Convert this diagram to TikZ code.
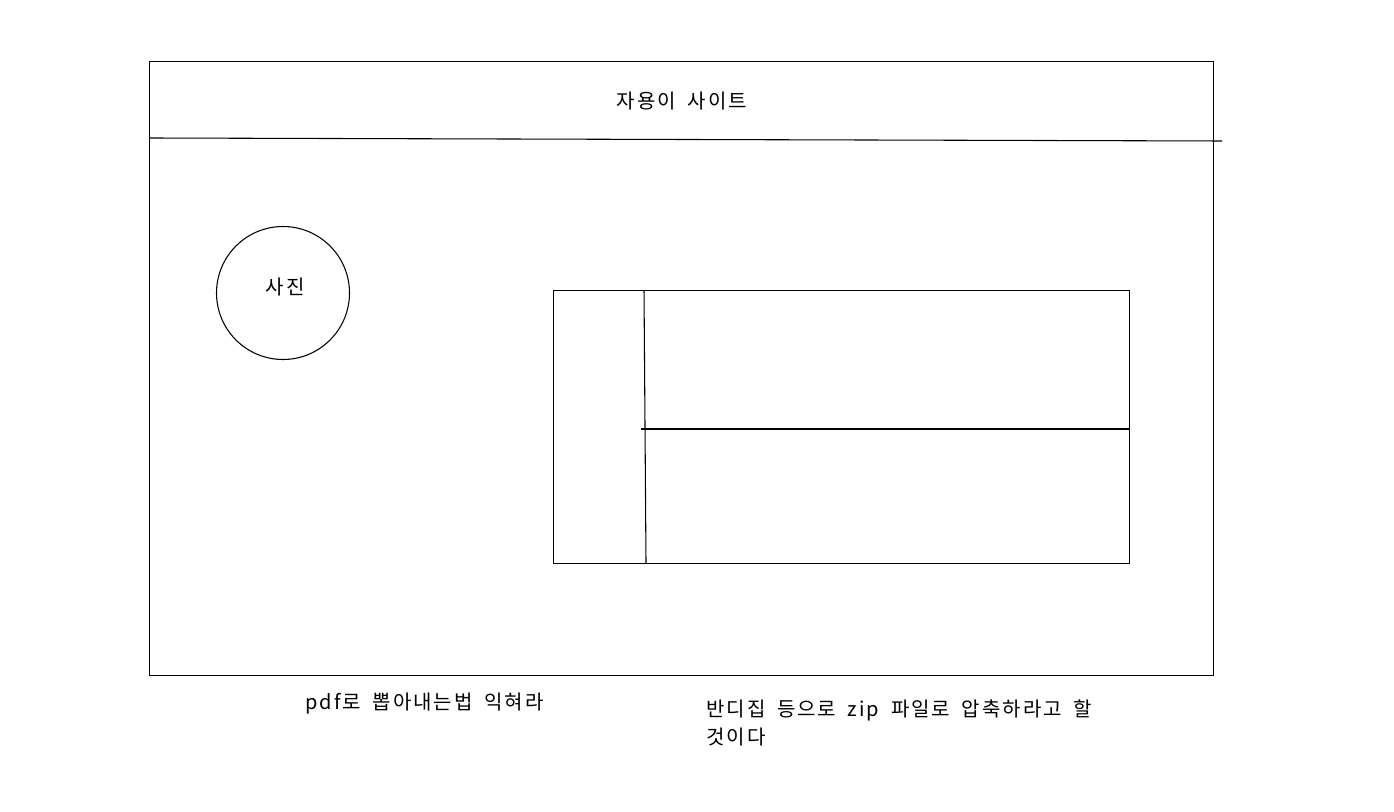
\documentclass[tikz,border=0pt]{standalone}
\usepackage{fontspec}
\setmainfont{Noto Sans CJK KR}[LetterSpace=10,WordSpace=1.8]
\begin{document}
\begin{tikzpicture}[x=0.75pt,y=-0.75pt,
  ln/.style={draw=black,line width=0.8pt},
  lbl/.style={font=\fontsize{15}{20}\selectfont,inner sep=0pt}]
\useasboundingbox (0,0) rectangle (1394,812);
\node[ln,rectangle,minimum width=1064*0.75pt,minimum height=614*0.75pt,anchor=north west] (page) at (149,61) {};
\coordinate (hl) at (150,138);
\coordinate (hr) at (1222,141);
\draw[ln] (hl) -- (hr);
\node[lbl] (title) at (682,101) {자용이 사이트};
\node[ln,circle,minimum size=133*0.75pt] (photo) at (283,293) {};
\node[lbl] (photolbl) at (285,287) {사진};
\node[ln,rectangle,minimum width=576*0.75pt,minimum height=273*0.75pt,anchor=north west] (box) at (553,290) {};
\coordinate (vt) at (644,290);
\coordinate (vb) at (646,563);
\draw[ln] (vt) -- (vb);
\coordinate (ml) at (641,429);
\coordinate (mr) at (1129,429);
\draw[ln] (ml) -- (mr);
\node[lbl,anchor=west] (note1) at (305,704) {pdf로 뽑아내는법 익혀라};
\node[lbl,anchor=north west,align=left,font=\fontsize{15}{20.5}\selectfont] (note2) at (706,700) {반디집 등으로 zip 파일로 압축하라고 할\\것이다};
\end{tikzpicture}
\end{document}
